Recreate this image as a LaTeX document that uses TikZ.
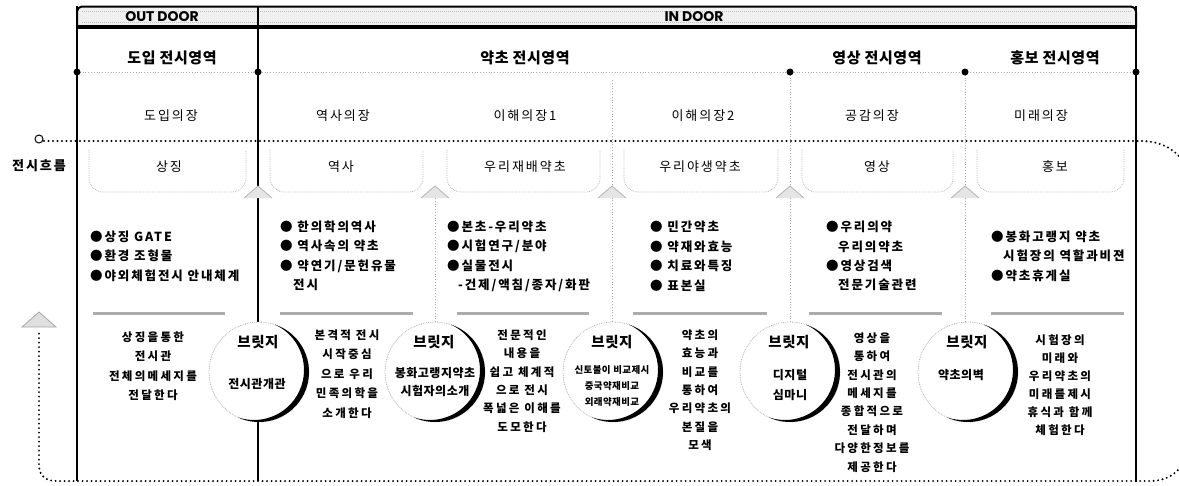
\documentclass[tikz,border=0pt]{standalone}
\usepackage{fontspec}
\usetikzlibrary{calc}
\setmainfont{Noto Sans CJK KR}
\newfontfamily\krA{Noto Sans CJK KR}[LetterSpace=4]
\newfontfamily\krB{Noto Sans CJK KR}[LetterSpace=15]
\newfontfamily\krC{Noto Sans CJK KR}[LetterSpace=20]
\newfontfamily\popf{Poppins}
\begin{document}
\begin{tikzpicture}[x=1pt,y=-1pt,
  hdr/.style={font=\krA\bfseries\fontsize{15}{18}\selectfont, inner sep=0pt},
  hall/.style={font=\krB\fontsize{13}{15}\selectfont, inner sep=0pt},
  lab/.style={font=\krB\fontsize{13}{15}\selectfont, inner sep=0pt},
  bul/.style={font=\krB\bfseries\fontsize{12.5}{14}\selectfont, anchor=west, inner sep=0pt},
  dsc/.style={font=\krC\bfseries\fontsize{11.5}{13}\selectfont, inner sep=0pt},
  btit/.style={font=\krA\bfseries\fontsize{14.5}{16}\selectfont, inner sep=0pt},
  bsub/.style={font=\krA\bfseries\fontsize{12}{14}\selectfont, inner sep=0pt},
  bsubs/.style={font=\krA\bfseries\fontsize{9.5}{11}\selectfont, inner sep=0pt},
  door/.style={font=\popf\bfseries\fontsize{14}{14}\selectfont, inner sep=0pt},
  flow/.style={line width=2.2pt, line cap=round, dash pattern=on 0pt off 4.5pt},
  orn/.style={gray!55, densely dotted, line width=0.8pt, rounded corners=14pt},
  peak/.style={fill=gray!20, draw=gray!60, line width=0.8pt},
  vline/.style={line width=1.2pt},
  dline/.style={gray!70, dotted, line width=0.8pt},
  gbar/.style={gray!65, line width=3pt},
  ring/.style={gray!60, densely dotted, line width=0.8pt}
]
\useasboundingbox (0,0) rectangle (1179,485);
\clip (0,0) rectangle (1179,485);

% top bar
\fill[gray!12, rounded corners=5pt] (77,6) rectangle (1136,28);
\draw[gray!50, densely dotted, line width=1pt] (82,11.5) -- (1131,11.5);
\draw[gray!50, densely dotted, line width=1pt] (82,22) -- (1131,22);
\draw[line width=2pt, rounded corners=5pt] (77,28) -- (77,6.5) -- (1136,6.5) -- (1136,28);
\draw[line width=3.5pt] (77,27) -- (1136,27);
\node[door] (outdoor) at (162,17) {OUT DOOR};
\node[door] (indoor) at (694,17) {IN DOOR};

% vertical structure lines
\draw[vline] (77,6) -- (77,481);
\draw[vline] (258,6) -- (258,481);
\draw[vline] (1136,6) -- (1136,482);
\draw[dline] (435,198) -- (435,322);
\draw[dline] (612,80) -- (612,322);
\draw[dline] (790,72) -- (790,322);
\draw[dline] (965,72) -- (965,322);

% header divider with dots
\draw[gray!70, dotted, line width=0.8pt] (77,72) -- (1136,72);
\foreach \x/\n in {77/a,258/b,790/c,965/d,1136/e}{
  \coordinate (dot\n) at (\x,72);
  \fill (dot\n) circle (3.5pt);
}

% section headers
\node[hdr] (h1) at (172,58) {도입 전시영역};
\node[hdr] (h2) at (525,58) {약초 전시영역};
\node[hdr] (h3) at (877,58) {영상 전시영역};
\node[hdr] (h4) at (1055,58) {홍보 전시영역};

% hall names
\node[hall] (ha1) at (171,116) {도입의장};
\node[hall] (ha2) at (343,116) {역사의장};
\node[hall] (ha3) at (525,116) {이해의장1};
\node[hall] (ha4) at (703,116) {이해의장2};
\node[hall] (ha5) at (872,116) {공감의장};
\node[hall] (ha6) at (1041,116) {미래의장};

% ornaments
\foreach \a/\b in {77/258,258/435,435/612,612/790,790/965,965/1136}{
  \draw[orn] (\a+12,150) -- (\a+12,192) -- (\b-12,192) -- (\b-12,150);
}
\foreach \b in {258,435,612,790,965}{
  \filldraw[peak] (\b-14,198) -- (\b,186) -- (\b+14,198);
}

% flow line
\coordinate (fs) at (39,139);
\draw[line width=1pt] (fs) circle (4pt);
\coordinate (fa) at (39,312);
\draw[flow] (44,141) -- (1140,141) .. controls (1168,141) and (1185,155) .. (1195,185)
  -- (1195,440) .. controls (1185,470) and (1170,481) .. (1150,481)
  -- (56,481) .. controls (45,481) and (39,475) .. (39,465) -- (39,330);
\filldraw[fill=gray!25, draw=gray!70, line width=0.8pt] (fa) -- (56,327) -- (22,327) -- cycle;
\node[font=\krB\bfseries\fontsize{13}{15}\selectfont, inner sep=0pt] (flowlab) at (39,166) {전시흐름};

% row labels
\node[lab] (l1) at (169,167) {상징};
\node[lab] (l2) at (341,167) {역사};
\node[lab] (l3) at (525,167) {우리재배약초};
\node[lab] (l4) at (700,167) {우리야생약초};
\node[lab] (l5) at (877,167) {영상};
\node[lab] (l6) at (1055,167) {홍보};

% bullets
\node[bul] (b11) at (90,237) {●상징 GATE};
\node[bul] (b12) at (90,256) {●환경 조형물};
\node[bul] (b13) at (90,276) {●야외체험전시 안내체계};
\node[bul] (b21) at (280,227) {● 한의학의역사};
\node[bul] (b22) at (280,246) {● 역사속의 약초};
\node[bul] (b23) at (280,266) {● 약연기/문헌유물};
\node[bul] (b24) at (293,285) {전시};
\node[bul] (b31) at (447,227) {●본초-우리약초};
\node[bul] (b32) at (447,246) {●시험연구/분야};
\node[bul] (b33) at (447,266) {●실물전시};
\node[bul] (b34) at (458,285) {-건제/액침/종자/화판};
\node[bul] (b41) at (650,227) {● 민간약초};
\node[bul] (b42) at (650,247) {● 약재와효능};
\node[bul] (b43) at (650,266) {● 치료와특징};
\node[bul] (b44) at (650,286) {● 표본실};
\node[bul] (b51) at (826,227) {●우리의약};
\node[bul] (b52) at (838,247) {우리의약초};
\node[bul] (b53) at (826,266) {●영상검색};
\node[bul] (b54) at (838,285) {전문기술관련};
\node[bul] (b61) at (991,237) {●봉화고랭지 약초};
\node[bul] (b62) at (1003,256) {시험장의 역할과비젼};
\node[bul] (b63) at (991,276) {●약초휴게실};

% grey bars
\draw[gbar] (93,313) -- (225,313);
\draw[gbar] (280,313) -- (413,313);
\draw[gbar] (457,313) -- (589,313);
\draw[gbar] (633,313) -- (767,313);
\draw[gbar] (809,313) -- (942,313);
\draw[gbar] (991,313) -- (1124,313);

% descriptions
\foreach \t [count=\i] in {상징을통한,전시관,전체의메세지를,전달한다}
  \node[dsc] (d1\i) at (153,337+19.5*\i-19.5) {\t};
\foreach \t [count=\i] in {본격적 전시,시작중심,으로 우리,민족의학을,소개한다}
  \node[dsc] (d2\i) at (347,335+19.5*\i-19.5) {\t};
\foreach \t [count=\i] in {전문적인,내용을,쉽고 체계적,으로 전시,폭넓은 이해를,도모한다}
  \node[dsc] (d3\i) at (522,335+18.4*\i-18.4) {\t};
\foreach \t [count=\i] in {약초의,효능과,비교를,통하여,우리약초의,본질을,모색}
  \node[dsc] (d4\i) at (700,335+18.4*\i-18.4) {\t};
\foreach \t [count=\i] in {영상을,통하여,전시관의,메세지를,종합적으로,전달하며,다양한정보를,제공한다}
  \node[dsc] (d5\i) at (872,338+18.4*\i-18.4) {\t};
\foreach \t [count=\i] in {시험장의,미래와,우리약초의,미래를제시,휴식과 함께,체험한다}
  \node[dsc] (d6\i) at (1060,340+18*\i-18) {\t};

% bridges
\foreach \x/\n in {259/1,435/2,613/3,790/4,968/5}{
  \coordinate (c\n) at (\x,372);
  \coordinate (ci\n) at (\x-5,370);
  \fill[white] (c\n) circle (50pt);
  \draw[ring] (c\n) circle (50pt);
  \fill[black] ($(c\n)+(71:50pt)$) arc[start angle=71, end angle=-115, radius=50pt]
     -- ($(ci\n)+(-109:50pt)$) arc[start angle=-109, end angle=65, radius=50pt] -- cycle;
  \node[btit] (bt\n) at (\x-1,342) {브릿지};
}
\node[bsub] (bs1) at (257,384) {전시관개관};
\node[bsub] (bs2a) at (435,373) {봉화고랭지약초};
\node[bsub] (bs2b) at (435,391) {시험자의소개};
\node[bsubs] (bs3a) at (612,370) {신토불이 비교제시};
\node[bsubs] (bs3b) at (612,386) {중국약재비교};
\node[bsubs] (bs3c) at (612,402) {외래약재비교};
\node[bsub] (bs4a) at (790,375) {디지털};
\node[bsub] (bs4b) at (790,395) {심마니};
\node[bsub] (bs5) at (961,375) {약초의벽};
\end{tikzpicture}
\end{document}
